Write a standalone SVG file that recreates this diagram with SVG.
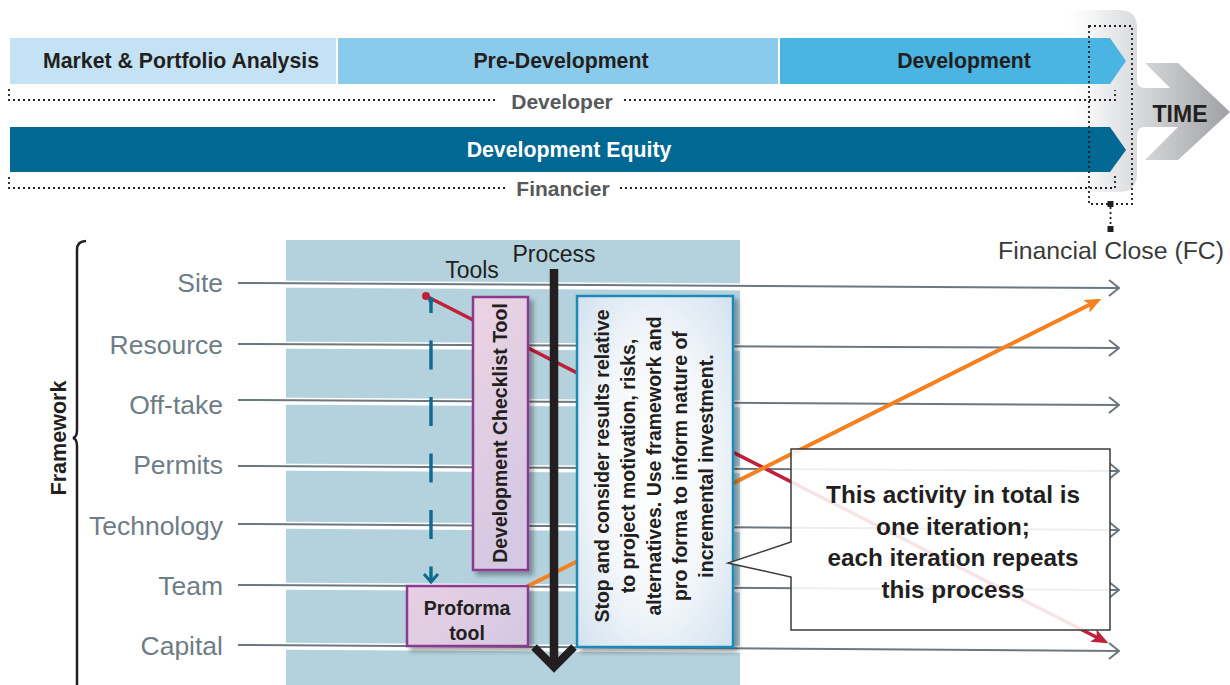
<svg xmlns="http://www.w3.org/2000/svg" width="1230" height="685" viewBox="0 0 1230 685">
<defs>
<style>
text{font-family:"Liberation Sans",Arial,sans-serif}
.bar{font-size:21.3px;font-weight:bold;fill:#231f20;text-anchor:middle}
.role{font-size:21px;font-weight:bold;fill:#58595b;text-anchor:middle}
.dot{fill:none;stroke:#231f20;stroke-width:1.8;stroke-dasharray:2 3}
.lbl{font-size:26.5px;fill:#6e7c86;text-anchor:end}
.hl{stroke:#ffffff;stroke-width:7;fill:none}
.ln{stroke:#6b7880;stroke-width:2;fill:none;marker-end:url(#gArr)}
.bx{font-weight:bold;fill:#231f20;text-anchor:middle}
.hdr{font-size:23px;fill:#231f20;text-anchor:middle}
</style>
<linearGradient id="timeG" gradientUnits="userSpaceOnUse" x1="1060" y1="0" x2="1230" y2="0">
<stop offset="0" stop-color="#ffffff" stop-opacity="0"/>
<stop offset="0.24" stop-color="#eeeff0"/>
<stop offset="0.45" stop-color="#dadbdd"/>
<stop offset="1" stop-color="#9ea0a3"/>
</linearGradient>
<linearGradient id="pinkG" x1="0" y1="0" x2="0.3" y2="1">
<stop offset="0" stop-color="#ecd3e3"/>
<stop offset="1" stop-color="#d5c8e2"/>
</linearGradient>
<linearGradient id="pinkG2" x1="0" y1="0" x2="1" y2="0.4">
<stop offset="0" stop-color="#e9cfe2"/>
<stop offset="1" stop-color="#d6cae3"/>
</linearGradient>
<radialGradient id="procG" cx="0.5" cy="0.5" r="0.7">
<stop offset="0" stop-color="#ffffff"/>
<stop offset="0.5" stop-color="#f5f8fb"/>
<stop offset="1" stop-color="#d3e2ef"/>
</radialGradient>
<filter id="sh" x="-20%" y="-10%" width="150%" height="130%">
<feGaussianBlur in="SourceAlpha" stdDeviation="2.5"/>
<feOffset dx="4" dy="4"/>
<feComponentTransfer><feFuncA type="linear" slope="0.35"/></feComponentTransfer>
<feMerge><feMergeNode/><feMergeNode in="SourceGraphic"/></feMerge>
</filter>
<marker id="gArr" markerUnits="userSpaceOnUse" viewBox="0 0 12 18" refX="11" refY="9" markerWidth="12" markerHeight="18" orient="auto">
<path d="M1 1 L11 9 L1 17" fill="none" stroke="#6b7880" stroke-width="2"/>
</marker>
<marker id="rArr" markerUnits="userSpaceOnUse" viewBox="0 0 17 14" refX="12" refY="7" markerWidth="17" markerHeight="14" orient="auto">
<path d="M0 0 L17 7 L0 14 L4 7 Z" fill="#c0203a"/>
</marker>
<marker id="oArr" markerUnits="userSpaceOnUse" viewBox="0 0 17 14" refX="12" refY="7" markerWidth="17" markerHeight="14" orient="auto">
<path d="M0 0 L17 7 L0 14 L4 7 Z" fill="#f58220"/>
</marker>
</defs>

<g id="time-background">
<path d="M1060 10 H1119 Q1137 10 1137 28 V80 Q1137 88 1145 88 H1170 L1145 63 H1178 L1230 112 L1178 160 H1145 L1178 127 H1145 Q1137 127 1137 135 V174 Q1137 192 1119 192 H1060 Z" fill="url(#timeG)"/>
<text x="1180" y="122" font-size="24" font-weight="bold" fill="#231f20" text-anchor="middle" textLength="55" lengthAdjust="spacingAndGlyphs">TIME</text>
</g>

<g id="bar-market">
<rect x="10" y="38" width="326" height="46" fill="#c3e2f3"/>
<text class="bar" x="181" y="68">Market &amp; Portfolio Analysis</text>
</g>
<g id="bar-predev">
<rect x="338" y="38" width="440" height="46" fill="#8acbeb"/>
<text class="bar" x="561" y="68">Pre-Development</text>
</g>
<g id="bar-dev">
<path d="M780 38 H1110 L1126 61 L1110 84 H780 Z" fill="#4ab4e2"/>
<text class="bar" x="964" y="68">Development</text>
</g>
<g id="developer">
<path class="dot" d="M9 89 V100 H498 M624 100 H1115 V90"/>
<text class="role" x="562" y="109">Developer</text>
</g>
<g id="bar-equity">
<path d="M10 127 H1110 L1126 150 L1110 172 H10 Z" fill="#006893"/>
<text class="bar" x="569" y="157" style="fill:#ffffff">Development Equity</text>
</g>
<g id="financier">
<path class="dot" d="M9 177 V188 H505 M620 188 H1115 V173"/>
<text class="role" x="563" y="196">Financier</text>
</g>
<g id="financial-close">
<rect class="dot" x="1089" y="26" width="43" height="178" stroke-width="2"/>
<rect x="1107.5" y="201" width="6" height="6" fill="#231f20"/>
<path class="dot" d="M1110.5 207 V226" stroke-width="2"/>
<rect x="1107.5" y="226" width="6" height="6" fill="#231f20"/>
<text x="1111" y="259" font-size="24.8" fill="#3a3a3a" text-anchor="middle">Financial Close (FC)</text>
</g>

<g id="framework">
<path d="M86 241 Q77 241 77 250 V430 Q77 437 73 438 Q77 439 77 446 V690" fill="none" stroke="#231f20" stroke-width="2.5"/>
<text transform="translate(66,438) rotate(-90)" x="0" y="0" font-size="22" font-weight="bold" fill="#231f20" text-anchor="middle" textLength="115" lengthAdjust="spacingAndGlyphs">Framework</text>
</g>

<rect id="panel" x="286" y="240" width="454" height="450" fill="#b3d2de"/>

<g id="labels">
<text class="lbl" x="223" y="292">Site</text>
<text class="lbl" x="223" y="354">Resource</text>
<text class="lbl" x="223" y="414">Off-take</text>
<text class="lbl" x="223" y="474">Permits</text>
<text class="lbl" x="223" y="535">Technology</text>
<text class="lbl" x="223" y="595">Team</text>
<text class="lbl" x="223" y="655">Capital</text>
</g>

<g id="connectors">
<g id="framework-lines">
<line class="hl" x1="238" y1="284" x2="1110" y2="289"/>
<line class="ln" x1="238" y1="283" x2="1119" y2="288"/>
<line class="hl" x1="238" y1="345" x2="1110" y2="349"/>
<line class="ln" x1="238" y1="344" x2="1119" y2="348"/>
<line class="hl" x1="238" y1="401" x2="1110" y2="406"/>
<line class="ln" x1="238" y1="400" x2="1119" y2="405"/>
<line class="hl" x1="238" y1="467" x2="1110" y2="472"/>
<line class="ln" x1="238" y1="466" x2="1119" y2="471"/>
<line class="hl" x1="238" y1="525" x2="1110" y2="531"/>
<line class="ln" x1="238" y1="524" x2="1119" y2="530"/>
<line class="hl" x1="238" y1="586" x2="1110" y2="591"/>
<line class="ln" x1="238" y1="585" x2="1119" y2="590"/>
<line class="hl" x1="238" y1="646" x2="1110" y2="652"/>
<line class="ln" x1="238" y1="645" x2="1119" y2="651"/>
</g>
<g id="red-path">
<line x1="426" y1="296" x2="1104" y2="641" stroke="#c0203a" stroke-width="3.5" marker-end="url(#rArr)"/>
<circle cx="426" cy="296" r="4" fill="#c0203a"/>
</g>
<g id="blue-dashed">
<line x1="431" y1="300" x2="431" y2="580" stroke="#0e6a8f" stroke-width="3.4" stroke-dasharray="29 27.5" stroke-dashoffset="16"/>
<circle cx="431" cy="300" r="2.8" fill="#0e6a8f"/>
<polyline points="424,574 431,582 438,574" fill="none" stroke="#0e6a8f" stroke-width="3"/>
</g>
<g id="orange-path">
<line x1="520" y1="590" x2="1097" y2="301" stroke="#f58220" stroke-width="4" marker-end="url(#oArr)"/>
</g>
</g>

<g id="headers">
<text class="hdr" x="472" y="278">Tools</text>
<text class="hdr" x="554" y="262">Process</text>
</g>

<g id="dev-checklist-tool">
<rect x="473" y="297" width="55" height="273" fill="url(#pinkG)" stroke="#8b3a8f" stroke-width="2.5" filter="url(#sh)"/>
<text class="bx" transform="translate(507,433) rotate(-90)" font-size="19.5">Development Checklist Tool</text>
</g>

<g id="proforma-tool">
<rect x="407" y="586" width="121" height="60" fill="url(#pinkG2)" stroke="#8b3a8f" stroke-width="2.5" filter="url(#sh)"/>
<text class="bx" x="467" y="615" font-size="19.5">Proforma</text>
<text class="bx" x="467" y="640" font-size="19.5">tool</text>
</g>

<g id="process-arrow">
<line x1="554" y1="269" x2="554" y2="666" stroke="#231f20" stroke-width="8.5"/>
<polyline points="534,647 554,667 574,647" fill="none" stroke="#231f20" stroke-width="8"/>
</g>

<g id="process-box">
<rect x="577" y="296" width="156" height="351" fill="url(#procG)" stroke="#1b8ab8" stroke-width="2.5" filter="url(#sh)"/>
<g transform="translate(655,466) rotate(-90)" font-size="19.5">
<text class="bx" x="0" y="-46">Stop and consider results relative</text>
<text class="bx" x="0" y="-20">to project motivation, risks,</text>
<text class="bx" x="0" y="6">alternatives. Use framework and</text>
<text class="bx" x="0" y="32">pro forma to inform nature of</text>
<text class="bx" x="0" y="58">incremental investment.</text>
</g>
</g>

<g id="callout">
<path d="M791 449 H1110 V630 H791 V577 L728 563 L791 542 Z" fill="#ffffff" fill-opacity="0.88" stroke="#3a3a3a" stroke-width="1.5"/>
<text class="bx" x="953" y="503" font-size="24.3">This activity in total is</text>
<text class="bx" x="953" y="535" font-size="24.3">one iteration;</text>
<text class="bx" x="953" y="566" font-size="24.3">each iteration repeats</text>
<text class="bx" x="953" y="598" font-size="24.3">this process</text>
</g>
</svg>
